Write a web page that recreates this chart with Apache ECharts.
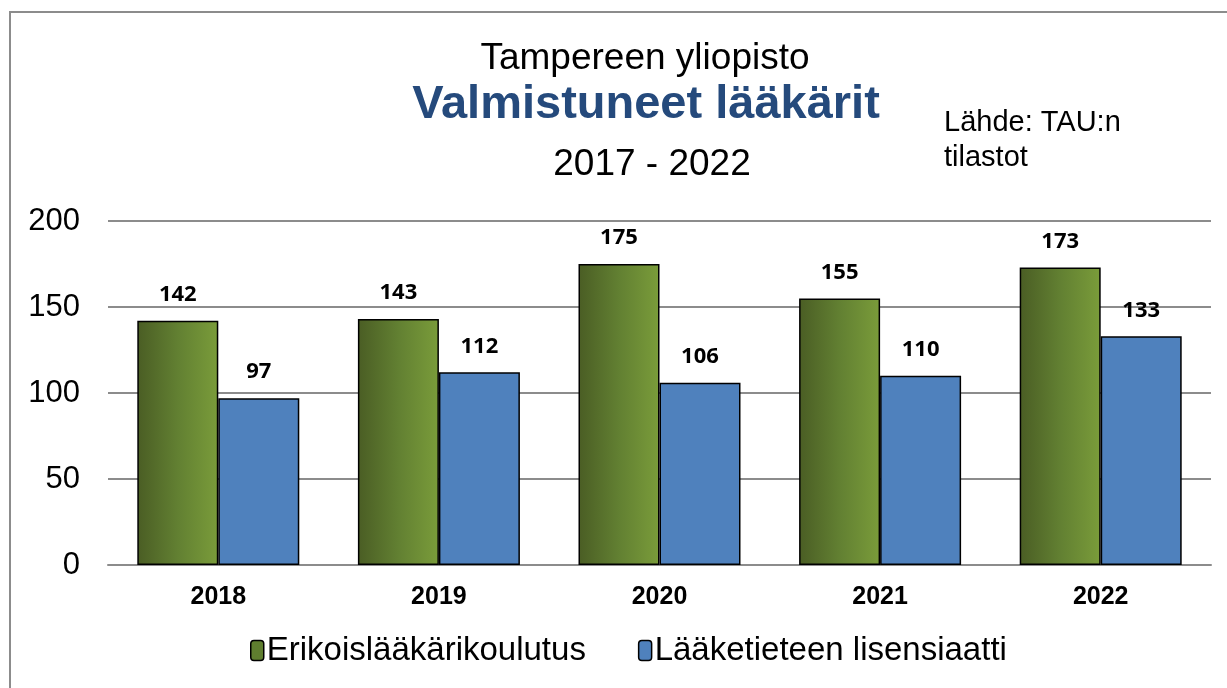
<!DOCTYPE html>
<html>
<head>
<meta charset="utf-8">
<script src="https://cdn.jsdelivr.net/npm/echarts@6/dist/echarts.min.js"></script>
<style>
  html, body { margin: 0; padding: 0; background: #fff; }
  #main { width: 1227px; height: 688px; }
</style>
</head>
<body>
<div id="main"></div>
<script>
var years = ['2018', '2019', '2020', '2021', '2022'];
var erikois = [142, 143, 175, 155, 173];
var lisensiaatti = [97, 112, 106, 110, 133];
var yTicks = [0, 50, 100, 150, 200];

var chart = echarts.init(document.getElementById('main'));

var greenFill = new echarts.graphic.LinearGradient(0, 0, 1, 0, [
  { offset: 0, color: '#4a5d24' },
  { offset: 0.5, color: '#628032' },
  { offset: 1, color: '#7a9c3a' }
]);

var labelStyle = {
  show: true,
  position: 'top',
  distance: 15,
  fontFamily: 'Noto Sans',
  fontWeight: 'bold',
  fontSize: 22,
  color: '#000'
};

var option = {
  backgroundColor: '#fff',
  animation: false,
  title: [
    { text: 'Tampereen yliopisto', left: 640, top: 35, textAlign: 'center',
      textStyle: { fontFamily: 'Liberation Sans', fontWeight: 'normal', fontSize: 37, color: '#000' } },
    { text: 'Valmistuneet lääkärit', left: 641, top: 77, textAlign: 'center',
      textStyle: { fontFamily: 'Liberation Sans', fontWeight: 'bold', fontSize: 47, color: '#254a7c' } },
    { text: '2017 - 2022', left: 647, top: 141, textAlign: 'center',
      textStyle: { fontFamily: 'Liberation Sans', fontWeight: 'normal', fontSize: 37, color: '#000' } },
    { text: 'Lähde: TAU:n\ntilastot', left: 939, top: 100,
      textStyle: { fontFamily: 'Liberation Sans', fontWeight: 'normal', fontSize: 29, lineHeight: 35, color: '#000' } }
  ],
  graphic: [
    { type: 'rect', shape: { x: 10, y: 12, width: 1240, height: 700 },
      style: { fill: 'none', stroke: '#8c8c8c', lineWidth: 2 }, silent: true }
  ],
  legend: {
    bottom: 16,
    left: 245,
    itemWidth: 13,
    itemHeight: 20,
    itemGap: 52,
    textStyle: { fontFamily: 'Liberation Sans', fontSize: 33, color: '#000', padding: [0, 0, 0, -2] },
    data: [
      { name: 'Erikoislääkärikoulutus', itemStyle: { color: '#5f7e2f', borderColor: '#000', borderWidth: 1.5 } },
      { name: 'Lääketieteen lisensiaatti', itemStyle: { color: '#4f81bd', borderColor: '#000', borderWidth: 1.5 } }
    ]
  },
  grid: { left: 108, right: 16, top: 221, bottom: 123, containLabel: false },
  xAxis: {
    type: 'category',
    data: years,
    axisTick: { show: false },
    axisLine: { show: true, lineStyle: { color: '#8c8c8c', width: 2 } },
    axisLabel: { fontFamily: 'Liberation Sans', fontWeight: 'bold', fontSize: 25, color: '#000', margin: 20 }
  },
  yAxis: {
    type: 'value',
    min: yTicks[0],
    max: yTicks[yTicks.length - 1],
    interval: yTicks[1] - yTicks[0],
    axisLine: { show: false },
    axisTick: { show: false },
    axisLabel: { fontFamily: 'Liberation Sans', fontSize: 31, color: '#000', margin: 28 },
    splitLine: { lineStyle: { color: '#8c8c8c', width: 2 } }
  },
  series: [
    {
      name: 'Erikoislääkärikoulutus',
      type: 'bar',
      data: erikois,
      barWidth: 81,
      barGap: '0%',
      itemStyle: { color: greenFill, borderColor: '#000', borderWidth: 1.5 },
      label: labelStyle
    },
    {
      name: 'Lääketieteen lisensiaatti',
      type: 'bar',
      data: lisensiaatti,
      barWidth: 81,
      barGap: '0%',
      itemStyle: { color: '#4f81bd', borderColor: '#000', borderWidth: 1.5 },
      label: labelStyle
    }
  ]
};

chart.setOption(option);
</script>
</body>
</html>
